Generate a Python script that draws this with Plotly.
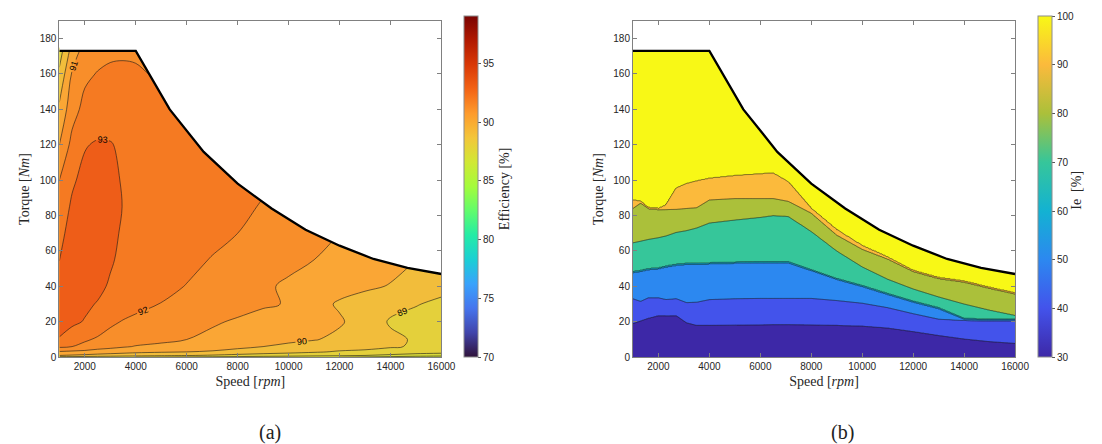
import numpy as np
import plotly.graph_objects as go

# ---------------- shared: maximum-torque envelope ----------------
env_speed = [1000, 4000, 5333, 6667, 8000, 9333, 10667, 12000, 13333, 14667, 16000]
env_torque = [173, 173, 140, 116, 98, 84, 72, 63, 55.5, 50.5, 47]

# ---------------- (a) efficiency map ----------------
eff_speed = [1000, 1500, 2000, 2500, 3000, 3500, 4000, 5000, 6000, 7000, 8000,
             9000, 10000, 11000, 12000, 13000, 14000, 15000, 16000]
eff_torque = [0, 1, 3, 6, 10, 20, 30, 40, 55, 70, 85, 100, 120, 140, 160, 175]
eff_T0   = [88.5, 88.5, 88.4, 88.3, 88.2, 88.1, 88.0, 87.9, 87.8, 87.7, 87.6, 87.5, 87.4, 87.2, 87.0, 86.8, 86.6, 86.3, 86.0]
eff_T1   = [90.0, 89.9, 89.8, 89.7, 89.6, 89.5, 89.4, 89.2, 89.05, 88.9, 88.7, 88.5, 88.4, 88.3, 88.2, 88.0, 87.8, 87.6, 87.5]
eff_T3   = [90.9, 90.8, 90.7, 90.5, 90.4, 90.3, 90.2, 90.1, 90.0, 89.9, 89.7, 89.5, 89.3, 89.1, 88.9, 88.8, 88.6, 88.4, 88.3]
eff_T6   = [92.2, 92.0, 91.8, 91.5, 91.3, 91.1, 90.95, 90.8, 90.6, 90.4, 90.2, 90.0, 89.8, 89.6, 89.4, 89.3, 89.1, 88.9, 88.7]
eff_T10  = [92.95, 92.6, 92.1, 91.9, 91.7, 91.5, 91.35, 91.2, 91.0, 90.8, 90.6, 90.4, 90.2, 90.05, 89.8, 89.5, 89.2, 88.9, 88.8]
eff_T20  = [93.3, 93.15, 92.95, 92.5, 92.15, 91.95, 91.8, 91.5, 91.3, 91.1, 90.9, 90.7, 90.5, 90.3, 90.1, 89.6, 88.9, 88.7, 88.6]
eff_T30  = [93.4, 93.35, 93.15, 92.95, 92.7, 92.4, 92.25, 91.98, 91.8, 91.5, 91.3, 91.1, 90.95, 90.3, 89.9, 89.6, 89.3, 89.05, 88.8]
eff_T40  = [93.45, 93.5, 93.4, 93.2, 92.9, 92.6, 92.4, 92.15, 91.98, 91.75, 91.55, 91.15, 90.85, 90.6, 90.3, 90.15, 89.95, 89.5, 89.3]
eff_T55  = [92.98, 93.4, 93.5, 93.4, 93.1, 92.8, 92.6, 92.35, 92.15, 91.97, 91.7, 91.5, 91.25, 91.0, 90.8, 90.5, 90.3, 90.0, 89.8]
eff_T70  = [92.85, 93.2, 93.45, 93.45, 93.2, 92.9, 92.7, 92.5, 92.3, 92.15, 92.0, 91.8, 91.5, 91.3, 91.0, 90.8, 90.5, 90.3, 90.0]
eff_T85  = [92.6, 93.1, 93.4, 93.45, 93.25, 92.98, 92.8, 92.6, 92.45, 92.3, 92.15, 91.95, 91.7, 91.5, 91.2, 91.0, 90.8, 90.5, 90.3]
eff_T100 = [92.0, 92.9, 93.2, 93.3, 93.15, 92.95, 92.8, 92.65, 92.5, 92.4, 92.3, 92.1, 91.9, 91.7, 91.5, 91.3, 91.1, 90.9, 90.7]
eff_T120 = [91.0, 92.3, 92.95, 93.08, 93.05, 92.85, 92.7, 92.6, 92.45, 92.3, 92.1, 91.9, 91.7, 91.5, 91.3, 91.1, 90.9, 90.7, 90.5]
eff_T140 = [90.2, 91.6, 92.3, 92.5, 92.55, 92.5, 92.45, 92.3, 92.2, 92.0, 91.8, 91.6, 91.4, 91.2, 91.0, 90.8, 90.6, 90.4, 90.2]
eff_T160 = [89.2, 91.1, 91.8, 92.05, 92.15, 92.15, 92.1, 91.9, 91.8, 91.6, 91.4, 91.2, 91.0, 90.8, 90.6, 90.4, 90.2, 90.0, 89.8]
eff_T175 = [88.4, 90.3, 91.3, 91.6, 91.8, 91.85, 91.85, 91.7, 91.6, 91.4, 91.2, 91.0, 90.8, 90.6, 90.4, 90.2, 90.0, 89.8, 89.6]
eff_rows = [eff_T0, eff_T1, eff_T3, eff_T6, eff_T10, eff_T20, eff_T30, eff_T40, eff_T55,
            eff_T70, eff_T85, eff_T100, eff_T120, eff_T140, eff_T160, eff_T175]
eff_levels = dict(start=87, end=93, size=1)
eff_cbar_ticks = [70, 75, 80, 85, 90, 95]

# ---------------- (b) Ie map: band boundaries (torque, Nm) ----------------
ie_speed = [1000, 1300, 1600, 2000, 2300, 2700, 3100, 3500, 4000, 5000, 6000, 6500,
            7100, 8000, 9000, 10000, 11000, 12000, 13000, 14000, 15000, 16000]
ie_b30_40  = [19, 20.5, 22, 23.5, 23.5, 23.5, 19.5, 18, 18, 18.2, 18.3, 18.4, 18.4, 18.3, 18, 17.6, 16.5, 14.5, 12.3, 10.3, 8.8, 7.8]
ie_b40_50  = [33, 31.5, 33.5, 33.5, 32.5, 33, 30.8, 31, 32.5, 33, 33.2, 33.2, 33.2, 33.2, 32, 30.5, 28, 24.6, 21.5, 20.8, 20.7, 20.7]
ie_b50_70  = [47.9, 48.5, 49.5, 50, 51, 52, 52.5, 52.5, 52.8, 53.2, 53.4, 53.4, 53.4, 49, 44, 40, 35.5, 31.2, 27.5, 21.5, 20.9, 20.8]
ie_b70_80  = [64.6, 65.5, 66.5, 67.5, 68.5, 70.5, 71.5, 73, 75.8, 77.5, 79, 80, 79.5, 71, 60, 51, 44, 38.5, 34, 30, 26.5, 23.5]
ie_b80_90  = [84, 87, 84, 83.5, 83.5, 83.5, 84, 84.4, 88.8, 89.6, 89.6, 89.6, 88, 81.4, 69, 61, 55.5, 48.5, 44.5, 42.5, 39, 35.8]
ie_b90_100 = [88.8, 88, 84.5, 84, 86, 95.5, 98, 99.5, 101, 102.5, 103.5, 104, 99, 84, 72, 63, 56.5, 49, 44.5, 42.5, 39, 35.8]
ie_band_values = [30, 40, 50, 70, 80, 90, 100]
ie_cbar_ticks = [30, 40, 50, 60, 70, 80, 90, 100]

x_ticks = [2000, 4000, 6000, 8000, 10000, 12000, 14000, 16000]
y_ticks = [0, 20, 40, 60, 80, 100, 120, 140, 160, 180]

# ---------------- styles ----------------
eff_band_colors = ['#cfe03a', '#d9da3a', '#e4d03b', '#f2bd3b', '#faa635', '#f88e2a', '#f57a22', '#ee5d18']
eff_cs = [[i / 7, c] for i, c in enumerate(eff_band_colors)]
parula_cs = [[0.0, '#3d28a7'], [1 / 7, '#4353eb'], [2 / 7, '#2c88f0'], [3 / 7, '#13b2d2'],
             [4 / 7, '#36c69a'], [5 / 7, '#abc03a'], [6 / 7, '#fbba3c'], [1.0, '#f8f816']]

SERIF = 'Liberation Serif, DejaVu Serif, serif'
SANS = 'Liberation Sans, Arial, sans-serif'
W, H = 1102, 444

# build the (b) table from the boundaries: the band value changes at each boundary
ie_s_grid = np.arange(1000, 16000.1, 40.0)
ie_t_grid = np.arange(0, 190.01, 0.4)
EPS = 0.4
bounds = [np.interp(ie_s_grid, ie_speed, b) for b in
          (ie_b30_40, ie_b40_50, ie_b50_70, ie_b70_80, ie_b80_90, ie_b90_100)]
ie_z = np.zeros((len(ie_t_grid), len(ie_s_grid)))
for j in range(len(ie_s_grid)):
    kx, kz = [0.0], [30.0]
    pairs = [(bounds[0][j], 35), (bounds[1][j], 45), (bounds[2][j], 55), (bounds[2][j] + EPS, 65),
             (bounds[3][j], 75), (bounds[4][j], 85), (bounds[5][j], 95)]
    for pos, val in pairs:
        pos = max(pos, kx[-1] + EPS)
        kx.append(pos)
        kz.append(val)
    kx.append(200.0)
    kz.append(100.0)
    ie_z[:, j] = np.interp(ie_t_grid, kx, kz)

fig = go.Figure()

# (a)
fig.add_trace(go.Contour(
    x=eff_speed, y=eff_torque, z=eff_rows, xaxis='x', yaxis='y',
    autocontour=False,
    contours=dict(start=eff_levels['start'], end=eff_levels['end'], size=eff_levels['size'],
                  coloring='fill', showlines=True, showlabels=True,
                  labelfont=dict(size=9, color='black', family=SANS)),
    line=dict(color='#1a1a1a', width=0.6, smoothing=1),
    colorscale=eff_cs, showscale=False, hoverinfo='skip'))

# (b)
fig.add_trace(go.Contour(
    x=ie_s_grid, y=ie_t_grid, z=ie_z, xaxis='x2', yaxis='y2',
    autocontour=False,
    contours=dict(start=35, end=95, size=10, coloring='fill', showlines=True),
    line=dict(color='#1a1a1a', width=0.6, smoothing=0),
    colorscale=parula_cs, showscale=False, hoverinfo='skip'))

# white mask above the envelope + envelope line, both panels
for xa, ya in (('x', 'y'), ('x2', 'y2')):
    fig.add_trace(go.Scatter(
        x=env_speed + [16000, 1000], y=env_torque + [195, 195], xaxis=xa, yaxis=ya,
        fill='toself', fillcolor='white', mode='lines', line=dict(width=0, color='white'),
        hoverinfo='skip'))
    fig.add_trace(go.Scatter(
        x=env_speed, y=env_torque, xaxis=xa, yaxis=ya, mode='lines',
        line=dict(color='black', width=2.3), hoverinfo='skip'))

# continuous colour bars
def cbar(xpx, ticks):
    return dict(x=xpx / W, xanchor='left', xpad=0, ypad=0, y=90 / H, yanchor='bottom',
                lenmode='pixels', len=341, thicknessmode='pixels', thickness=14,
                outlinecolor='#8c8c8c', outlinewidth=1, tickvals=ticks, ticks='outside',
                ticklen=3, tickcolor='#555', tickfont=dict(size=10, color='#262626', family=SANS))

fig.add_trace(go.Scatter(
    x=[1000], y=[-100], xaxis='x', yaxis='y', mode='markers', hoverinfo='skip',
    marker=dict(size=1, opacity=0, color=[70], cmin=70, cmax=99, colorscale='Turbo',
                showscale=True, colorbar=cbar(462, eff_cbar_ticks))))
fig.add_trace(go.Scatter(
    x=[1000], y=[-100], xaxis='x2', yaxis='y2', mode='markers', hoverinfo='skip',
    marker=dict(size=1, opacity=0, color=[30], cmin=30, cmax=100, colorscale=parula_cs,
                showscale=True, colorbar=cbar(1043, ie_cbar_ticks))))

def xax(dom):
    return dict(domain=dom, range=[1000, 16000], tickvals=x_ticks,
                ticktext=[str(v) for v in x_ticks], ticks='inside', ticklen=4,
                tickcolor='#808080', showline=True, linecolor='#808080', linewidth=1,
                mirror='ticks', showgrid=False, zeroline=False,
                tickfont=dict(size=10, color='#262626', family=SANS),
                title=dict(text='Speed [<i>rpm</i>]', standoff=4,
                           font=dict(size=14, color='#262626', family=SERIF)))

def yax(anchor):
    return dict(domain=[90 / H, 431 / H], range=[0, 190], tickvals=y_ticks, ticks='inside',
                ticklen=4, tickcolor='#808080', showline=True, linecolor='#808080', linewidth=1,
                mirror='ticks', showgrid=False, zeroline=False, anchor=anchor,
                tickfont=dict(size=10, color='#262626', family=SANS),
                title=dict(text='Torque [<i>Nm</i>]', standoff=6,
                           font=dict(size=14, color='#262626', family=SERIF)))

fig.update_layout(
    width=W, height=H, margin=dict(l=0, r=0, t=0, b=0),
    paper_bgcolor='white', plot_bgcolor='white', showlegend=False,
    xaxis=dict(xax([52 / W, 439 / W]), anchor='y'),
    yaxis=yax('x'),
    xaxis2=dict(xax([633 / W, 1020 / W]), anchor='y2'),
    yaxis2=yax('x2'),
    annotations=[
        dict(text='Efficiency [%]', x=503 / W, y=(H - 183) / H, xref='paper', yref='paper',
             xanchor='center', yanchor='middle',
             textangle=-90, showarrow=False, font=dict(size=14, color='#262626', family=SERIF)),
        dict(text='Ie  [%]', x=1082 / W, y=(H - 185) / H, xref='paper', yref='paper',
             xanchor='center', yanchor='middle',
             textangle=-90, showarrow=False, font=dict(size=14, color='#262626', family=SERIF)),
        dict(text='(a)', x=265 / W, y=(H - 430) / H, xref='paper', yref='paper',
             xanchor='center', yanchor='middle',
             showarrow=False, font=dict(size=20, color='#222', family=SERIF)),
        dict(text='(b)', x=845 / W, y=(H - 430) / H, xref='paper', yref='paper',
             xanchor='center', yanchor='middle',
             showarrow=False, font=dict(size=20, color='#222', family=SERIF)),
    ])

fig.write_html('out.html')
